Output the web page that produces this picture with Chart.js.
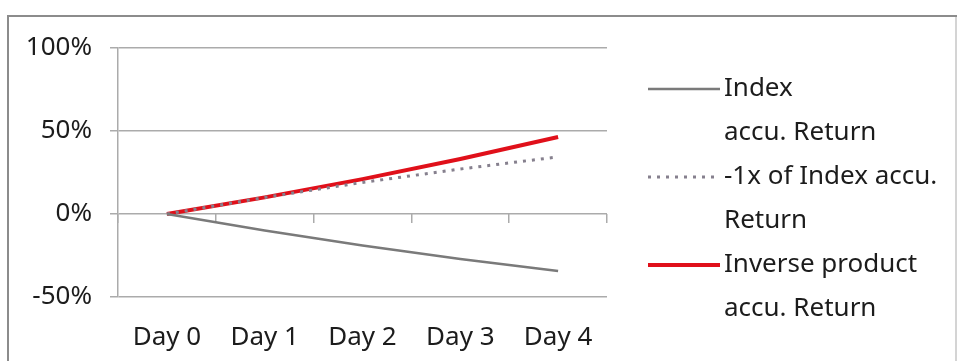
<!DOCTYPE html>
<html>
<head>
<meta charset="utf-8">
<script src="https://cdn.jsdelivr.net/npm/chart.js@4/dist/chart.umd.min.js"></script>
<style>
  html, body { margin: 0; padding: 0; background: #ffffff; }
  #wrap { width: 959px; height: 361px; position: relative; }
</style>
</head>
<body>
<div id="wrap"><canvas id="c" width="959" height="361"></canvas></div>
<script>
// Categories and cumulative returns (%) for each series
const days = ['Day 0', 'Day 1', 'Day 2', 'Day 3', 'Day 4'];
const indexAccuReturn = [0, -10, -19, -27.1, -34.4];
const minusOneXIndexReturn = [0, 10, 19, 27.1, 34.4];
const inverseProductReturn = [0, 10, 21, 33.1, 46.4];
const yMin = -50, yMax = 100, yStep = 50;
const legendLabels = [
  ['Index', 'accu. Return'],
  ['-1x of Index accu.', 'Return'],
  ['Inverse product', 'accu. Return']
];

const FONT = '"Noto Sans", "Liberation Sans", Arial, sans-serif';
const FONT_SIZE = 26;
const TEXT_COLOR = '#1c1c1c';
const GRID_COLOR = '#ababab';

// Outer frame around the whole chart
const framePlugin = {
  id: 'frame',
  beforeDraw(chart) {
    const ctx = chart.ctx;
    ctx.save();
    ctx.fillStyle = '#ffffff';
    ctx.fillRect(0, 0, chart.width, chart.height);
    ctx.lineWidth = 2;
    ctx.strokeStyle = '#d4d4d4';
    ctx.beginPath();
    ctx.moveTo(956, 17);
    ctx.lineTo(956, chart.height + 5);
    ctx.stroke();
    ctx.strokeStyle = '#8c8c8c';
    ctx.beginPath();
    ctx.moveTo(8, chart.height + 5);
    ctx.lineTo(8, 16);
    ctx.lineTo(957, 16);
    ctx.stroke();
    ctx.restore();
  }
};

// Legend on the right: line sample plus two-line label per series
const sideLegendPlugin = {
  id: 'sideLegend',
  afterDraw(chart) {
    const ctx = chart.ctx;
    const rowGap = 44;
    const firstRow = 89;
    ctx.save();
    ctx.font = FONT_SIZE + 'px ' + FONT;
    ctx.fillStyle = TEXT_COLOR;
    ctx.textBaseline = 'middle';
    ctx.textAlign = 'left';
    chart.data.datasets.forEach((ds, i) => {
      const y = firstRow + i * 2 * rowGap;
      ctx.save();
      ctx.strokeStyle = ds.borderColor;
      ctx.lineWidth = ds.borderWidth;
      ctx.setLineDash(ds.borderDash || []);
      ctx.lineCap = 'butt';
      ctx.beginPath();
      ctx.moveTo(648, y);
      ctx.lineTo(720, y);
      ctx.stroke();
      ctx.restore();
      legendLabels[i].forEach((line, j) => {
        ctx.fillText(line, 724, y + j * rowGap);
      });
    });
    ctx.restore();
  }
};

new Chart(document.getElementById('c'), {
  type: 'line',
  data: {
    labels: days,
    datasets: [
      {
        label: legendLabels[0].join(' '),
        data: indexAccuReturn,
        borderColor: '#7a7a7a',
        borderWidth: 2.5,
        pointRadius: 0,
        tension: 0
      },
      {
        label: legendLabels[1].join(' '),
        data: minusOneXIndexReturn,
        borderColor: '#86808e',
        borderWidth: 3,
        borderDash: [3, 6],
        pointRadius: 0,
        tension: 0
      },
      {
        label: legendLabels[2].join(' '),
        data: inverseProductReturn,
        borderColor: '#e0101a',
        borderWidth: 4,
        pointRadius: 0,
        tension: 0
      }
    ]
  },
  options: {
    responsive: false,
    animation: false,
    events: [],
    layout: { padding: { top: 48, right: 352, bottom: 0, left: 0 } },
    plugins: {
      legend: { display: false },
      tooltip: { enabled: false }
    },
    scales: {
      x: {
        type: 'category',
        position: 'bottom',
        offset: true,
        grid: { display: false, drawTicks: false },
        border: { display: false },
        ticks: {
          font: { family: FONT, size: FONT_SIZE },
          color: TEXT_COLOR,
          padding: 25,
          maxRotation: 0,
          autoSkip: false
        },
        afterFit(scale) { scale.height = 64; }
      },
      xZero: {
        type: 'category',
        axis: 'x',
        position: { y: 0 },
        offset: true,
        grid: {
          offset: true,
          drawOnChartArea: false,
          drawTicks: true,
          tickLength: 9,
          color: GRID_COLOR,
          lineWidth: 1.5
        },
        border: { display: false },
        ticks: { display: false }
      },
      y: {
        min: yMin,
        max: yMax,
        ticks: {
          stepSize: yStep,
          callback: (v) => v + '%',
          font: { family: FONT, size: FONT_SIZE },
          color: TEXT_COLOR,
          padding: 18
        },
        grid: { color: GRID_COLOR, lineWidth: 1.5, tickLength: 8 },
        border: { display: true, color: GRID_COLOR, width: 1.5 },
        afterFit(scale) { scale.width = 118; }
      }
    }
  },
  plugins: [framePlugin, sideLegendPlugin]
});
</script>
</body>
</html>
